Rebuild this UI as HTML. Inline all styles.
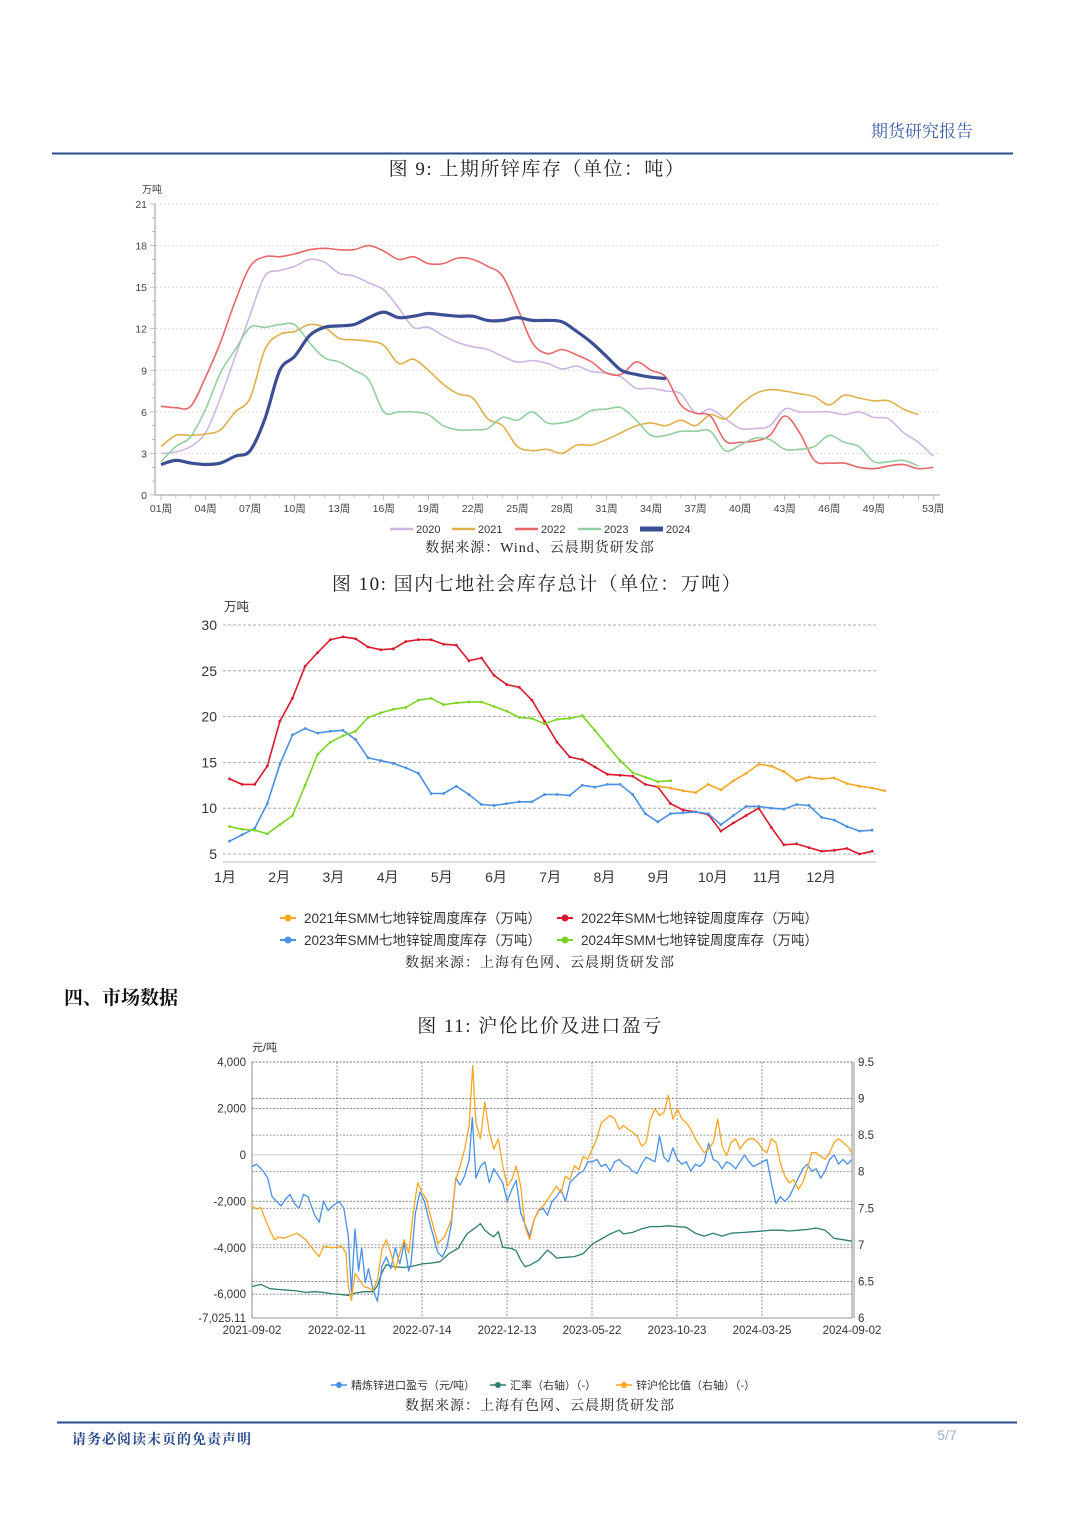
<!DOCTYPE html>
<html><head><meta charset="utf-8"><style>
html,body{margin:0;padding:0;background:#fff}
svg{display:block}
text{font-family:"Liberation Sans","Noto Sans CJK SC",sans-serif}
.serif{font-family:"Liberation Serif","Noto Serif CJK SC",serif}
</style></head><body>
<svg id="pg" width="1080" height="1526" viewBox="0 0 1080 1526" xmlns="http://www.w3.org/2000/svg">
<text x="973" y="137" text-anchor="end" font-size="17" fill="#3d5ea6" class="serif">期货研究报告</text>
<line x1="52" y1="153.5" x2="1013" y2="153.5" stroke="#2a4a8c" stroke-width="2"/>
<text x="537" y="175" text-anchor="middle" font-size="19" fill="#222" class="serif" letter-spacing="1.5">图 9:  上期所锌库存（单位：吨）</text>
<g id="c1"></g>
<text x="540" y="552" text-anchor="middle" font-size="14" fill="#222" class="serif" letter-spacing="1">数据来源：Wind、云晨期货研发部</text>
<text x="537" y="590" text-anchor="middle" font-size="19" fill="#222" class="serif" letter-spacing="1.5">图 10:  国内七地社会库存总计（单位：万吨）</text>
<g id="c2"></g>
<text x="540" y="967" text-anchor="middle" font-size="14" fill="#222" class="serif" letter-spacing="1">数据来源：上海有色网、云晨期货研发部</text>
<text x="64" y="1004" font-size="19" font-weight="bold" fill="#111" class="serif">四、市场数据</text>
<text x="540" y="1032" text-anchor="middle" font-size="19" fill="#222" class="serif" letter-spacing="1.5">图 11:  沪伦比价及进口盈亏</text>
<g id="c3"></g>
<text x="540" y="1410" text-anchor="middle" font-size="14" fill="#222" class="serif" letter-spacing="1">数据来源：上海有色网、云晨期货研发部</text>
<line x1="57" y1="1422.5" x2="1017" y2="1422.5" stroke="#2a4a8c" stroke-width="2"/>
<text x="72" y="1444" font-size="14" font-weight="bold" fill="#2a4a8c" class="serif" letter-spacing="1">请务必阅读末页的免责声明</text>
<text x="947" y="1440" text-anchor="middle" font-size="14" fill="#9fb0cc">5/7</text>
</svg>
<script>
// ---------- Chart 1 data (weekly, 万吨) ----------
const c1Weeks = ["01周","04周","07周","10周","13周","16周","19周","22周","25周","28周","31周","34周","37周","40周","43周","46周","49周","53周"];
const c1Ticks = [0,3,6,9,12,15,18,21];
const s2020 = [3.0,3.1,3.5,4.5,7,10,13,15.8,16.2,16.5,17.0,16.8,16.0,15.8,15.3,14.8,13.5,12.1,12.1,11.5,11.0,10.7,10.5,10.0,9.6,9.7,9.5,9.1,9.3,8.9,8.8,8.5,7.7,7.7,7.5,7.3,5.9,6.2,5.5,4.8,4.8,5.0,6.2,6.0,6.0,6.0,5.8,6.0,5.6,5.5,4.5,3.8,2.8];
const s2021 = [3.5,4.3,4.3,4.4,4.7,6.0,7.0,10.5,11.6,11.8,12.3,12.1,11.3,11.2,11.1,10.8,9.5,9.8,9.0,8.0,7.3,7.0,5.5,5.0,3.5,3.2,3.3,3.0,3.6,3.6,4.0,4.5,5.0,5.2,5.0,5.4,5.0,5.8,5.5,6.5,7.3,7.6,7.5,7.3,7.1,6.5,7.2,7.0,6.8,6.8,6.2,5.8];
const s2022 = [6.4,6.3,6.4,8.5,11,14,16.5,17.2,17.2,17.4,17.7,17.8,17.7,17.7,18.0,17.6,17.0,17.2,16.7,16.7,17.1,17.0,16.5,15.8,13.5,11,10.2,10.5,10.1,9.6,8.8,8.7,9.6,9.0,8.5,6.5,5.9,5.7,3.9,3.8,3.9,4.3,5.7,4.5,2.5,2.3,2.3,2.0,1.9,2.1,2.2,1.9,2.0];
const s2023 = [2.4,3.5,4.2,6.2,8.8,10.5,12.1,12.1,12.3,12.3,11.0,9.9,9.6,9.0,8.3,6.0,6.0,6.0,5.8,5.0,4.7,4.7,4.8,5.6,5.4,6.0,5.2,5.2,5.5,6.1,6.2,6.3,5.4,4.3,4.3,4.6,4.6,4.6,3.2,3.6,4.1,4.0,3.3,3.3,3.5,4.3,3.8,3.5,2.4,2.4,2.5,2.1];
const s2024 = [2.2,2.5,2.3,2.2,2.3,2.8,3.2,5.5,9.0,10.0,11.5,12.1,12.2,12.3,12.8,13.2,12.8,12.9,13.1,13.0,12.9,12.9,12.6,12.6,12.8,12.6,12.6,12.5,11.8,11.0,10.0,9.0,8.7,8.5,8.4];

// ---------- Chart 2 data (weekly, 万吨) ----------
const c2Months = ["1月","2月","3月","4月","5月","6月","7月","8月","9月","10月","11月","12月"];
const c2Ticks = [5,10,15,20,25,30];
const k2021Start = 35;
const k2021 = [12.4,12.2,11.9,11.7,12.6,12.0,13.0,13.8,14.8,14.6,14.0,13.0,13.4,13.2,13.3,12.7,12.4,12.2,11.9];
const k2022 = [13.2,12.6,12.6,14.6,19.5,22.0,25.5,27.0,28.4,28.7,28.5,27.6,27.3,27.4,28.2,28.4,28.4,27.9,27.8,26.1,26.4,24.5,23.5,23.2,21.8,19.5,17.2,15.6,15.3,14.5,13.7,13.6,13.5,12.6,12.3,10.5,9.8,9.6,9.3,7.5,8.4,9.2,10.0,7.9,6.0,6.1,5.7,5.3,5.4,5.6,5.0,5.3];
const k2023 = [6.4,7.1,7.8,10.5,14.8,18.0,18.7,18.2,18.4,18.5,17.5,15.5,15.2,14.9,14.4,13.8,11.6,11.6,12.4,11.5,10.4,10.3,10.5,10.7,10.7,11.5,11.5,11.4,12.5,12.3,12.6,12.6,11.5,9.4,8.5,9.4,9.5,9.6,9.4,8.2,9.2,10.2,10.2,10.0,9.9,10.4,10.3,9.0,8.7,8.0,7.5,7.6];
const k2024 = [8.0,7.7,7.6,7.2,8.2,9.2,12.5,15.9,17.2,17.9,18.4,19.9,20.4,20.8,21.0,21.8,22.0,21.3,21.5,21.6,21.6,21.1,20.6,19.9,19.8,19.2,19.7,19.8,20.1,18.5,16.8,15.2,13.9,13.4,12.9,13.0];

// ---------- Chart 3 data (t index 0..134, ~8 days per step) ----------
const c3Dates = ["2021-09-02","2022-02-11","2022-07-14","2022-12-13","2023-05-22","2023-10-23","2024-03-25","2024-09-02"];
const c3LeftTicks = [4000,2000,0,-2000,-4000,-6000];
const c3RightTicks = [9.5,9,8.5,8,7.5,7,6.5,6];
const profitT = [0,1,2.5,3.5,4.5,5.5,6.5,7.5,8.5,9.5,10.5,11.5,12.5,14,15,16,17,18,19.5,20.5,21.5,22.2,23,23.8,24.5,25.3,26,27,28,29,30,31,32,33,34,35,35.5,36.5,37.5,38.5,39.5,40.5,41.5,42.5,43.5,44.5,45.5,46.5,47.5,48.5,49.2,50,51,52,53,54,55,56,57,58,59,60,61,62,63,64,65,66,67,68,69,70,71,72,73,74,75,76,77,78,79,80,81,82,83,84,85,86,87,88,89,90,91,92,93,94,95,96,97,98,99,100,101,102,103,104,105,106,107,108,109,110,111,112,113,114,115,116,117,118,119,120,121,122,123,124,125,126,127,128,129,130,131,132,133,134];
const profitV = [-500,-400,-700,-1000,-1800,-2000,-2200,-1900,-1700,-2100,-2300,-1700,-1800,-2600,-2900,-2000,-2400,-2200,-2000,-2300,-3500,-5900,-3200,-5000,-4000,-5500,-4900,-5800,-6300,-4800,-4400,-4900,-4000,-4700,-3800,-5000,-4700,-2500,-1600,-2000,-2800,-3500,-4200,-4400,-4000,-3000,-1000,-1300,-900,-200,1600,-1000,-500,-300,-1200,-600,-900,-1200,-2000,-1500,-1100,-2500,-3000,-3500,-2800,-2400,-2300,-2600,-2000,-1800,-1500,-2000,-1200,-1000,-800,-700,-300,-300,-200,-500,-400,-700,-300,-200,-400,-500,-700,-800,-400,-100,-200,-300,800,-100,-300,300,-200,-400,-300,-700,-400,-500,-300,500,-200,-300,-600,-300,-400,-600,-300,0,-300,-500,-400,-300,-200,-1200,-2100,-1800,-2000,-1800,-1400,-1000,-600,-400,-700,-600,-1000,-700,-200,0,-400,-200,-400,-200];
const ratioT = [0,1,2,3,4,5,6,7,8,10,12,14,15,16,18,20,21,21.5,22.2,23,24,25,26,27,28,29,30,31,32,33,34,35,36,37,38,39,40.5,41.5,43,44.5,45.5,46.5,47.5,48.5,49.3,50,51,52,53,54,55,56,57,58,59,60,61,62,63,64,65,66,67,68,69,70,71,72,73,74,75,76,77,78,79,80,81,82,83,84,85,86,87,88,89,90,91,92,93,94,95,96,97,98,99,100,101,102,103,104,105,106,107,108,109,110,111,112,113,114,115,116,117,118,119,120,121,122,123,124,125,126,127,128,129,130,131,132,133,134];
const ratioV = [7.53,7.49,7.51,7.34,7.2,7.07,7.11,7.09,7.11,7.16,7.07,6.91,6.84,6.98,6.96,6.98,6.89,6.43,6.24,6.61,6.52,6.43,6.41,6.38,6.52,6.93,7.07,6.89,6.66,6.89,7.07,6.89,7.44,7.85,7.71,7.62,7.25,7.02,7.11,7.34,7.89,8.08,8.31,8.63,9.45,8.67,8.45,8.95,8.54,8.31,8.45,8.08,7.80,7.89,8.08,7.80,7.25,7.07,7.34,7.48,7.53,7.62,7.71,7.80,7.71,7.94,7.89,8.08,8.03,8.21,8.17,8.31,8.45,8.67,8.72,8.77,8.72,8.58,8.63,8.58,8.54,8.49,8.35,8.40,8.72,8.86,8.77,8.81,9.04,8.72,8.86,8.72,8.67,8.58,8.45,8.35,8.26,8.31,8.40,8.72,8.35,8.22,8.40,8.45,8.31,8.40,8.45,8.45,8.40,8.31,8.26,8.45,8.40,8.12,7.94,7.85,7.89,7.76,7.85,8.03,8.26,8.26,8.21,8.17,8.26,8.40,8.45,8.40,8.35,8.26,8.22,8.26];
const fxT = [0,2,4,6,8,10,12,14,16,18,20,21.5,23,25,27,28,29,30,31,32,34,36,38,40,42,44,46,48,50,51,52,53,54,55,56,58,59,60,61,62,64,66,67,68,70,72,74,76,78,80,82,83,85,87,89,91,93,95,97,99,101,103,105,107,110,112,114,116,118,120,122,124,126,128,130,132,134];
const fxV = [6.43,6.46,6.40,6.39,6.38,6.37,6.35,6.36,6.35,6.33,6.32,6.31,6.34,6.36,6.36,6.44,6.62,6.73,6.71,6.70,6.69,6.71,6.74,6.75,6.77,6.88,6.95,7.15,7.24,7.29,7.20,7.15,7.11,7.18,6.97,6.95,6.92,6.79,6.70,6.72,6.79,6.93,6.88,6.82,6.83,6.84,6.88,7.01,7.08,7.15,7.20,7.15,7.17,7.22,7.25,7.25,7.26,7.25,7.24,7.16,7.12,7.16,7.12,7.16,7.17,7.18,7.19,7.20,7.20,7.19,7.20,7.21,7.23,7.20,7.09,7.07,7.05];

const NS="http://www.w3.org/2000/svg";
function mk(parent,tag,attrs,txt){const e=document.createElementNS(NS,tag);for(const k in attrs)e.setAttribute(k,attrs[k]);if(txt!==undefined)e.textContent=txt;parent.appendChild(e);return e;}
function smooth(pts){if(pts.length<2)return "";let d="M"+pts[0][0]+","+pts[0][1];for(let i=0;i<pts.length-1;i++){const p0=pts[Math.max(0,i-1)],p1=pts[i],p2=pts[i+1],p3=pts[Math.min(pts.length-1,i+2)];const c1x=p1[0]+(p2[0]-p0[0])/6,c1y=p1[1]+(p2[1]-p0[1])/6,c2x=p2[0]-(p3[0]-p1[0])/6,c2y=p2[1]-(p3[1]-p1[1])/6;d+=" C"+c1x.toFixed(1)+","+c1y.toFixed(1)+" "+c2x.toFixed(1)+","+c2y.toFixed(1)+" "+p2[0].toFixed(1)+","+p2[1].toFixed(1);}return d;}

// ===== Chart 1 =====
(function(){
const g=document.getElementById('c1');
const X=w=>161+(w-1)*14.85, Y=v=>495-v*(291/21);
const t=mk(g,'text',{x:142,y:193,'font-size':10,fill:'#444'},'万吨');


c1Ticks.forEach(v=>{
 if(v>0){const l=mk(g,'line',{x1:156,x2:940,y1:Y(v),y2:Y(v),stroke:'#ddd','stroke-dasharray':'2,2'});
 
 }
 const tx=mk(g,'text',{x:147,y:Y(v)+4,'text-anchor':'end','font-size':10.5,fill:'#444'},String(v));
 
 
});
for(let v=0;v<=21;v+=1){mk(g,'line',{x1:v%3?152:150,x2:155,y1:Y(v),y2:Y(v),stroke:'#999','stroke-width':0.6});}
mk(g,'line',{x1:155,x2:155,y1:204,y2:495,stroke:'#999'});
mk(g,'line',{x1:155,x2:940,y1:495,y2:495,stroke:'#999'});
for(let w=1;w<=53;w++)mk(g,'line',{x1:X(w),x2:X(w),y1:495,y2:w%3==1||w==53?500:498,stroke:'#999','stroke-width':0.6});
c1Weeks.forEach(s=>{const w=parseInt(s,10);const tx=mk(g,'text',{x:X(w),y:512,'text-anchor':'middle','font-size':10.5,fill:'#444'},s);
 
 });
const series=[[s2020,'#cdb6df',1.6,'2020'],[s2021,'#e0b04a',1.6,'2021'],[s2022,'#e8666a',1.6,'2022'],[s2023,'#93cfa0',1.6,'2023'],[s2024,'#3c4f94',3.2,'2024']];
series.forEach(([arr,col,w,name])=>{
 const p=mk(g,'path',{d:smooth(arr.map((v,i)=>[X(i+1),Y(v)])),fill:'none',stroke:col,'stroke-width':w,'stroke-linejoin':'round'});
 
 
});
const lx=[390,452,515,578,640];
series.forEach(([arr,col,w,name],i)=>{
 const lg=mk(g,'g',{});
 
 
 mk(lg,'line',{x1:lx[i],x2:lx[i]+23,y1:529,y2:529,stroke:col,'stroke-width':i==4?5:2.5});
 mk(lg,'text',{x:lx[i]+26,y:533,'font-size':11,fill:'#333'},name);
});
})();

// ===== Chart 2 =====
(function(){
const g=document.getElementById('c2');
const X=w=>229.5+(w-1)*12.6, Y=v=>854-(v-5)*9.16, MX=i=>225+i*54.2;
const t=mk(g,'text',{x:224,y:611,'font-size':12.5,fill:'#333'},'万吨');


c2Ticks.forEach(v=>{
 const l=mk(g,'line',{x1:223,x2:876,y1:Y(v),y2:Y(v),stroke:'#999','stroke-dasharray':'3,2','stroke-width':0.8});
 
 
 const tx=mk(g,'text',{x:217,y:Y(v)+5,'text-anchor':'end','font-size':14,fill:'#333'},String(v));
 
 
});
mk(g,'line',{x1:223,x2:876,y1:862,y2:862,stroke:'#ddd','stroke-width':2});
c2Months.forEach((m,i)=>{const tx=mk(g,'text',{x:MX(i),y:882,'text-anchor':'middle','font-size':14,fill:'#333'},m);
 
 });
const series=[[k2022,1,'#d9182e','2022'],[k2023,1,'#4a90e2','2023'],[k2024,1,'#7dd321','2024'],[k2021,k2021Start,'#f5a623','2021']];
series.forEach(([arr,st,col,name])=>{
 const pts=arr.map((v,i)=>[X(st+i),Y(v)]);
 const p=mk(g,'polyline',{points:pts.map(p=>p[0].toFixed(1)+','+p[1].toFixed(1)).join(' '),fill:'none',stroke:col,'stroke-width':1.6});
 
 
 pts.forEach(q=>mk(g,'circle',{cx:q[0],cy:q[1],r:1.4,fill:col}));
});
const leg=[[288,918,'#f5a623','2021年SMM七地锌锭周度库存（万吨）'],[565,918,'#d9182e','2022年SMM七地锌锭周度库存（万吨）'],[288,940,'#4a90e2','2023年SMM七地锌锭周度库存（万吨）'],[565,940,'#7dd321','2024年SMM七地锌锭周度库存（万吨）']];
leg.forEach(([x,y,col,s],i)=>{
 const lg=mk(g,'g',{});
 
 
 mk(lg,'line',{x1:x-8,x2:x+8,y1:y,y2:y,stroke:col,'stroke-width':2});
 mk(lg,'circle',{cx:x,cy:y,r:3.5,fill:col});
 mk(lg,'text',{x:x+16,y:y+5,'font-size':13.5,fill:'#333'},s);
});
})();

// ===== Chart 3 =====
(function(){
const g=document.getElementById('c3');
const L=252,R=852,T=1062,B=1318;
const X=t=>L+t*(R-L)/134, YL=v=>T+(4000-v)*(B-T)/11025.11, YR=v=>T+(9.5-v)*(B-T)/3.5;
const t=mk(g,'text',{x:252,y:1051,'font-size':11,fill:'#333'},'元/吨');


mk(g,'rect',{x:L,y:T,width:R-L,height:B-T,fill:'none',stroke:'#777','stroke-dasharray':'2,1.5','stroke-width':0.8});
c3LeftTicks.forEach(v=>{
 const l=mk(g,'line',{x1:L,x2:R,y1:YL(v),y2:YL(v),stroke:v==0?'#bbb':'#777','stroke-dasharray':v==0?'':'2,1.5','stroke-width':0.8});
 
 
 const tx=mk(g,'text',{x:246,y:YL(v)+4,'text-anchor':'end','font-size':11.5,fill:'#333'},v.toLocaleString('en-US'));
 
 
});
const bt=mk(g,'text',{x:246,y:1322,'text-anchor':'end','font-size':11.5,fill:'#333'},'-7,025.11');


c3RightTicks.forEach(v=>{
 mk(g,'line',{x1:L,x2:R,y1:YR(v),y2:YR(v),stroke:'#777','stroke-dasharray':'2,1.5','stroke-width':0.8});
 const tx=mk(g,'text',{x:858,y:YR(v)+4,'font-size':11.5,fill:'#333'},String(v));
 
 
});
mk(g,'line',{x1:R+2,x2:R+2,y1:T,y2:B,stroke:'#777','stroke-width':0.8});
c3Dates.forEach((d,i)=>{
 const x=i<7?L+i*85:R;
 mk(g,'line',{x1:x,x2:x,y1:T,y2:B,stroke:'#777','stroke-dasharray':'2,1.5','stroke-width':0.8});
 const tx=mk(g,'text',{x:x,y:1334,'text-anchor':'middle','font-size':11.5,fill:'#333'},d);
 
 
});
function line(ts,vs,yf,col,name){
 const n=Math.min(ts.length,vs.length);
 const pts=[];for(let i=0;i<n;i++)pts.push(X(ts[i]).toFixed(1)+','+yf(vs[i]).toFixed(1));
 const p=mk(g,'polyline',{points:pts.join(' '),fill:'none',stroke:col,'stroke-width':1.3,'stroke-linejoin':'round'});
 
 
}
line(fxT,fxV,YR,'#2e7d6e','fig11-line-fx');
line(profitT,profitV,YL,'#4a90e2','fig11-line-import-profit');
line(ratioT,ratioV,YR,'#f5a623','fig11-line-ratio');
const leg=[[339,'#4a90e2','精炼锌进口盈亏（元/吨）'],[498,'#2e7d6e','汇率（右轴）（-）'],[624,'#f5a623','锌沪伦比值（右轴）（-）']];
leg.forEach(([x,col,s],i)=>{
 const lg=mk(g,'g',{});
 
 
 mk(lg,'line',{x1:x-8,x2:x+8,y1:1385,y2:1385,stroke:col,'stroke-width':1.5});
 mk(lg,'circle',{cx:x,cy:1385,r:3,fill:col});
 mk(lg,'text',{x:x+12,y:1389,'font-size':11,fill:'#333'},s);
});
})();
</script>
</body></html>
